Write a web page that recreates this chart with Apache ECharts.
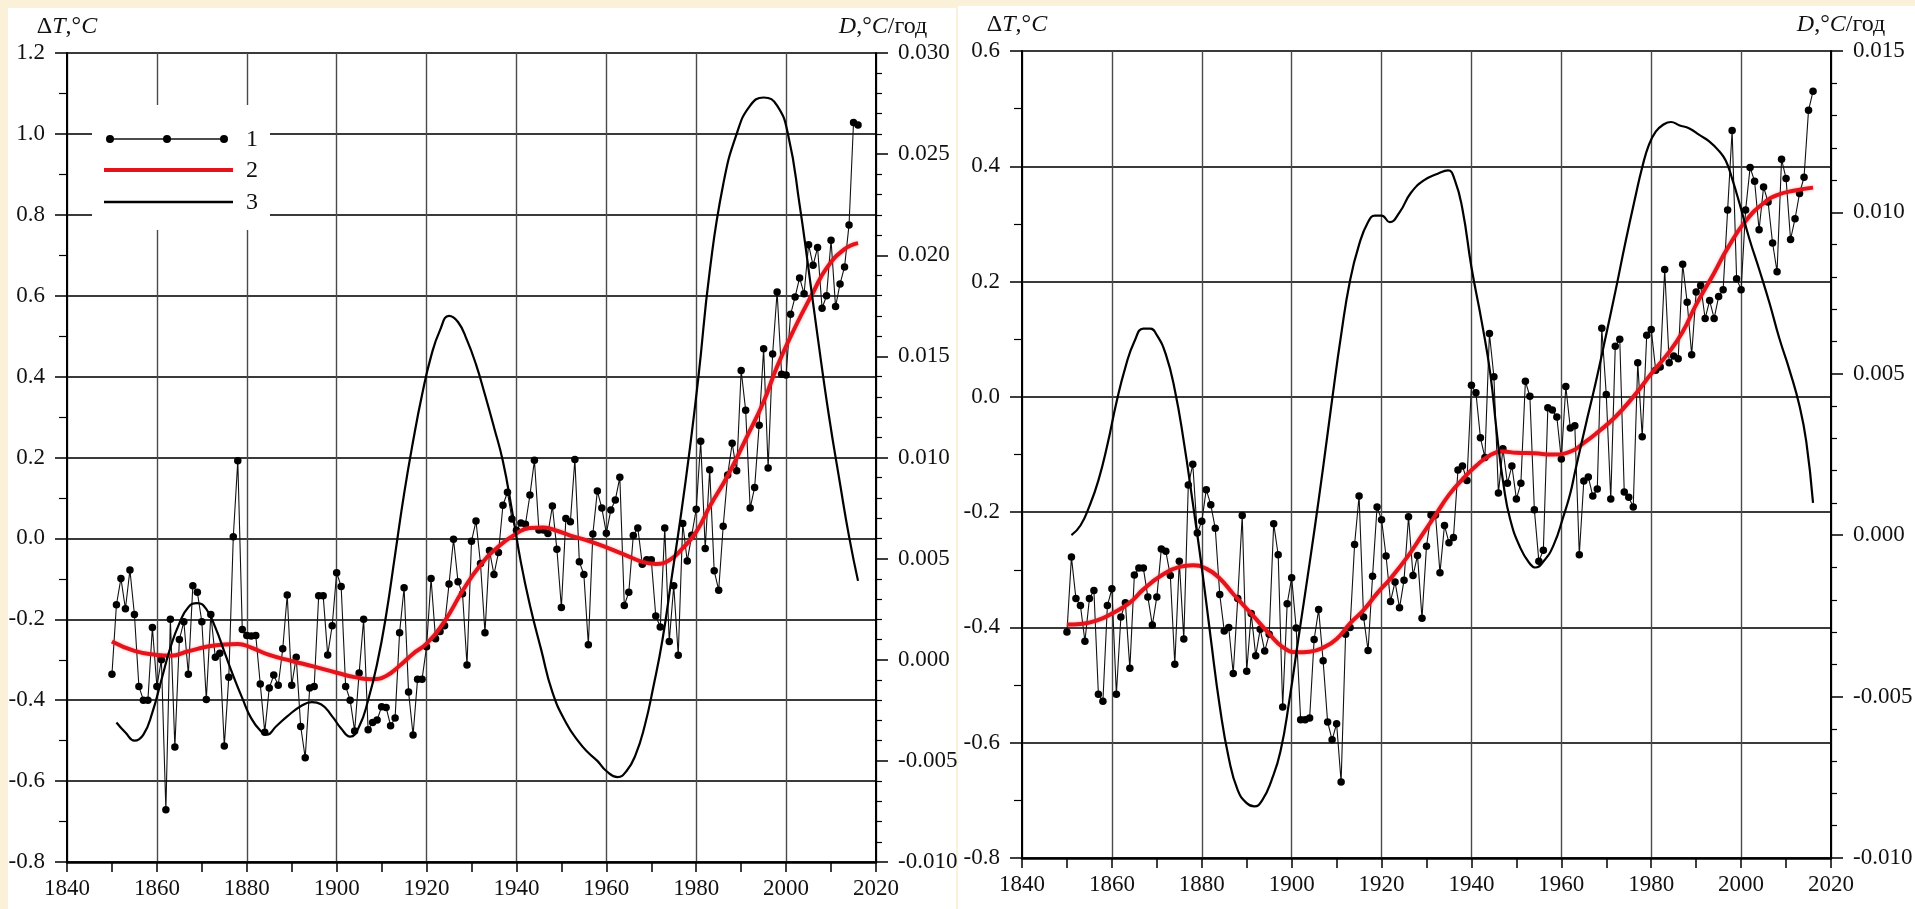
<!DOCTYPE html>
<html><head><meta charset="utf-8">
<script src="https://cdn.jsdelivr.net/npm/echarts/dist/echarts.min.js"></script>
<style>
html,body{margin:0;padding:0;width:1915px;height:909px;background:#fbf0d8;overflow:hidden;font-family:'Liberation Serif',serif}
#p1{position:absolute;left:8px;top:8px;width:948px;height:901px;background:#fff}
#p2{position:absolute;left:958px;top:6px;width:957px;height:903px;background:#fff}
#c{position:absolute;left:0;top:0;width:1915px;height:909px}
</style></head><body>
<div id="p1"></div><div id="p2"></div><div id="c"></div>
<script>
// ---- data ----
const firstYear = 1850;
const yearTicks = [1840, 2020, 20];
const leftTAxis = [-0.8, 1.2, 0.2];
const leftDAxis = [-0.010, 0.030, 0.005];
const rightTAxis = [-0.8, 0.6, 0.2];
const rightDAxis = [-0.010, 0.015, 0.005];

// panel 1: annual ΔT (1850..2016)
const tLeft = [
-0.336,-0.164,-0.099,-0.174,-0.078,-0.188,-0.366,-0.400,-0.400,-0.220,
-0.366,-0.300,-0.671,-0.200,-0.516,-0.250,-0.206,-0.336,-0.117,-0.133,
-0.206,-0.398,-0.188,-0.294,-0.284,-0.513,-0.343,0.004,0.192,-0.225,
-0.240,-0.241,-0.240,-0.360,-0.479,-0.370,-0.338,-0.363,-0.273,-0.140,
-0.363,-0.294,-0.465,-0.542,-0.370,-0.366,-0.142,-0.142,-0.288,-0.216,
-0.085,-0.119,-0.366,-0.400,-0.476,-0.333,-0.200,-0.473,-0.455,-0.449,
-0.416,-0.418,-0.463,-0.444,-0.233,-0.122,-0.380,-0.486,-0.348,-0.348,
-0.268,-0.099,-0.248,-0.230,-0.216,-0.113,-0.002,-0.107,-0.137,-0.313,
-0.007,0.043,-0.062,-0.233,-0.030,-0.089,-0.035,0.082,0.114,0.048,
0.020,0.038,0.035,0.107,0.193,0.021,0.021,0.012,0.080,-0.027,
-0.171,0.049,0.041,0.195,-0.058,-0.089,-0.263,0.011,0.117,0.075,
0.013,0.070,0.095,0.151,-0.166,-0.133,0.007,0.026,-0.064,-0.053,
-0.053,-0.192,-0.219,0.026,-0.255,-0.117,-0.289,0.037,-0.056,0.008,
0.072,0.240,-0.025,0.170,-0.080,-0.128,0.030,0.157,0.235,0.167,
0.415,0.317,0.075,0.126,0.280,0.469,0.174,0.456,0.609,0.406,
0.404,0.554,0.597,0.644,0.605,0.726,0.675,0.719,0.569,0.600,
0.737,0.573,0.629,0.671,0.775,1.028,1.022];

// panel 2: annual ΔT (1850..2016)
const tRight = [
-0.408,-0.278,-0.350,-0.362,-0.424,-0.350,-0.336,-0.516,-0.528,-0.362,
-0.333,-0.516,-0.382,-0.357,-0.471,-0.309,-0.297,-0.297,-0.347,-0.396,
-0.347,-0.264,-0.268,-0.310,-0.464,-0.285,-0.420,-0.153,-0.117,-0.236,
-0.216,-0.161,-0.187,-0.228,-0.343,-0.406,-0.400,-0.480,-0.350,-0.206,
-0.476,-0.376,-0.449,-0.403,-0.441,-0.412,-0.220,-0.274,-0.538,-0.359,
-0.314,-0.401,-0.560,-0.560,-0.557,-0.421,-0.369,-0.458,-0.564,-0.595,
-0.567,-0.668,-0.412,-0.400,-0.256,-0.172,-0.382,-0.440,-0.311,-0.191,
-0.213,-0.276,-0.355,-0.321,-0.366,-0.318,-0.208,-0.310,-0.275,-0.384,
-0.259,-0.205,-0.205,-0.305,-0.223,-0.253,-0.244,-0.127,-0.120,-0.145,
0.020,0.007,-0.071,-0.105,0.110,0.035,-0.167,-0.090,-0.150,-0.120,
-0.177,-0.150,0.027,0.001,-0.196,-0.285,-0.266,-0.019,-0.023,-0.035,
-0.108,0.018,-0.054,-0.050,-0.274,-0.146,-0.139,-0.172,-0.160,0.119,
0.004,-0.177,0.088,0.100,-0.165,-0.174,-0.191,0.059,-0.069,0.107,
0.117,0.046,0.052,0.221,0.059,0.071,0.066,0.230,0.164,0.073,
0.182,0.193,0.136,0.167,0.136,0.174,0.186,0.324,0.462,0.205,
0.186,0.324,0.398,0.374,0.290,0.364,0.338,0.267,0.217,0.412,
0.379,0.273,0.309,0.353,0.381,0.497,0.530];

// smoothed ΔT trend (curve 2), [year, value]
const trendLeft = [[1850,-0.255],[1855,-0.278],[1860,-0.288],[1863,-0.290],[1867,-0.279],[1871,-0.268],[1875,-0.262],[1878,-0.261],[1881,-0.270],[1885,-0.288],[1890,-0.303],[1895,-0.317],[1900,-0.332],[1904,-0.343],[1908,-0.348],[1911,-0.340],[1914,-0.315],[1917,-0.285],[1920,-0.260],[1924,-0.205],[1928,-0.130],[1932,-0.066],[1936,-0.020],[1940,0.012],[1943,0.026],[1946,0.027],[1949,0.019],[1952,0.007],[1956,-0.006],[1960,-0.022],[1964,-0.040],[1968,-0.058],[1971,-0.063],[1974,-0.054],[1977,-0.024],[1980,0.016],[1983,0.079],[1987,0.155],[1991,0.245],[1995,0.338],[1998,0.425],[2002,0.522],[2006,0.608],[2009,0.668],[2013,0.715],[2016,0.730]];
const trendRight = [[1850,-0.395],[1853,-0.394],[1857,-0.387],[1860,-0.376],[1864,-0.357],[1867,-0.334],[1871,-0.310],[1875,-0.295],[1878,-0.292],[1881,-0.298],[1884,-0.315],[1887,-0.342],[1891,-0.376],[1895,-0.411],[1898,-0.434],[1901,-0.443],[1904,-0.442],[1907,-0.435],[1910,-0.420],[1913,-0.393],[1916,-0.370],[1919,-0.341],[1922,-0.315],[1926,-0.275],[1929,-0.240],[1932,-0.205],[1935,-0.170],[1938,-0.143],[1941,-0.120],[1944,-0.102],[1947,-0.095],[1950,-0.097],[1954,-0.098],[1958,-0.100],[1962,-0.095],[1965,-0.080],[1968,-0.062],[1972,-0.035],[1976,0.000],[1980,0.040],[1984,0.078],[1987,0.113],[1990,0.160],[1994,0.215],[1997,0.258],[2001,0.305],[2005,0.336],[2008,0.350],[2012,0.358],[2016,0.363]];

// rate D, °C/год (curve 3), [year, value]
const rateLeft = [[1851,-0.0031],[1853,-0.0036],[1855,-0.0040],[1857,-0.0037],[1859,-0.0026],[1861,-0.0010],[1863,0.0006],[1865,0.0018],[1867,0.0026],[1869,0.0028],[1871,0.0025],[1873,0.0016],[1875,0.0004],[1877,-0.0008],[1879,-0.0019],[1881,-0.0029],[1883,-0.0035],[1884.5,-0.0037],[1886.5,-0.0033],[1889,-0.0028],[1892,-0.0023],[1894.5,-0.0021],[1896.5,-0.0022],[1899,-0.0028],[1901,-0.0034],[1903,-0.0038],[1905,-0.0033],[1907,-0.0020],[1909,-0.0002],[1911,0.0022],[1913,0.0052],[1915,0.0082],[1917,0.0108],[1919,0.0131],[1921,0.0150],[1923,0.0163],[1925,0.0170],[1927,0.0167],[1929,0.0158],[1931,0.0146],[1933,0.0131],[1935,0.0115],[1937,0.0098],[1939,0.0074],[1941,0.0048],[1943,0.0027],[1945.5,0.0005],[1948,-0.0016],[1951,-0.0031],[1954,-0.0041],[1956,-0.0046],[1958,-0.0050],[1960,-0.0055],[1962.5,-0.0058],[1964.5,-0.0055],[1966.5,-0.0047],[1968.5,-0.0033],[1970.5,-0.0013],[1972.5,0.0010],[1974.5,0.0040],[1976.5,0.0070],[1978.5,0.0103],[1980.5,0.0140],[1983,0.0192],[1986,0.0235],[1989,0.0260],[1992,0.0274],[1995,0.0278],[1998,0.0274],[2000.5,0.0259],[2003,0.0225],[2005,0.0193],[2007,0.0160],[2009.5,0.0121],[2012,0.0087],[2014,0.0061],[2016,0.0039]];
const rateRight = [[1851,0.0000],[1853,0.0003],[1855,0.0009],[1857,0.0017],[1859,0.0028],[1861,0.0041],[1863,0.0052],[1865,0.0060],[1867,0.0064],[1868.5,0.0064],[1870,0.0062],[1872,0.0056],[1874,0.0045],[1876,0.0029],[1878,0.0010],[1880,-0.0010],[1882,-0.0032],[1884,-0.0053],[1886,-0.0069],[1888,-0.0079],[1890,-0.0083],[1891.7,-0.0084],[1893.5,-0.0082],[1895.5,-0.0076],[1897.5,-0.0067],[1899.5,-0.0051],[1901.5,-0.0032],[1903,-0.0018],[1905,0.0001],[1907,0.0021],[1909,0.0042],[1911,0.0062],[1913,0.0079],[1915,0.0090],[1917,0.0097],[1918.5,0.0099],[1920,0.0099],[1921.8,0.0097],[1924,0.0100],[1926.5,0.0106],[1929.5,0.0110],[1932.5,0.0112],[1934.8,0.0113],[1936.3,0.0110],[1938,0.0101],[1940,0.0083],[1942.3,0.0066],[1944.2,0.0050],[1945.7,0.0031],[1947.1,0.0016],[1948.6,0.0005],[1950.9,-0.0004],[1953.1,-0.0009],[1954.2,-0.0010],[1956.1,-0.0008],[1958.3,-0.0003],[1960.5,0.0006],[1962,0.0013],[1963.1,0.0020],[1965.4,0.0034],[1967.6,0.0047],[1969.8,0.0061],[1972.1,0.0076],[1974.3,0.0091],[1976.5,0.0105],[1978,0.0114],[1979.5,0.0121],[1981,0.0125],[1982.5,0.0127],[1984.4,0.0128],[1986.2,0.0127],[1988.5,0.0126],[1990.7,0.0124],[1992.9,0.0122],[1995.1,0.0119],[1996.6,0.0116],[1998.1,0.0110],[1999.6,0.0103],[2001.8,0.0092],[2004.1,0.0082],[2006.3,0.0072],[2008.5,0.0061],[2010.8,0.0051],[2013,0.0040],[2014.5,0.0029],[2016,0.0010]];

const legendLabels = ['1', '2', '3'];

// ---- chart ----
const FONT = "'Liberation Serif', serif";
const TXT = '#111';
const LBL = 23;
const rich = {
  r: {fontFamily: FONT, fontSize: 24, color: TXT},
  i: {fontFamily: FONT, fontSize: 24, fontStyle: 'italic', color: TXT}
};
const annual = (arr) => arr.map((v, i) => [firstYear + i, v]);

function xAx(gi) {
  return {
    type: 'value', gridIndex: gi, min: yearTicks[0], max: yearTicks[1], interval: yearTicks[2],
    axisLine: {show: true, onZero: false, lineStyle: {color: '#000', width: 2.5}},
    axisTick: {show: true, inside: false, length: 10, lineStyle: {color: '#000', width: 1.5}},
    minorTick: {show: true, splitNumber: 2, length: 10, lineStyle: {color: '#000', width: 1.5}},
    axisLabel: {fontFamily: FONT, fontSize: LBL, color: TXT, margin: 15, formatter: v => String(v)},
    splitLine: {show: true, lineStyle: {color: '#4a4a4a', width: 1.4}},
    minorSplitLine: {show: false}
  };
}
function tAx(gi, rng, padName) {
  return {
    type: 'value', gridIndex: gi, position: 'left', min: rng[0], max: rng[1], interval: rng[2],
    name: '{r|Δ}{i|T}{r|,°}{i|C}', nameLocation: 'end', nameGap: 14,
    nameTextStyle: {fontFamily: FONT, rich: rich, padding: padName},
    axisLine: {show: true, onZero: false, lineStyle: {color: '#000', width: 2}},
    axisTick: {show: true, inside: false, length: 12, lineStyle: {color: '#000', width: 1.5}},
    minorTick: {show: true, splitNumber: 2, length: 8, lineStyle: {color: '#000', width: 1.2}},
    axisLabel: {fontFamily: FONT, fontSize: LBL, color: TXT, margin: 22, formatter: v => v.toFixed(1)},
    splitLine: {show: true, lineStyle: {color: '#3a3a3a', width: 2}},
    minorSplitLine: {show: false}
  };
}
function dAx(gi, rng, padName) {
  return {
    type: 'value', gridIndex: gi, position: 'right', min: rng[0], max: rng[1], interval: rng[2],
    name: '{i|D}{r|,°}{i|C}{r|/год}', nameLocation: 'end', nameGap: 14,
    nameTextStyle: {fontFamily: FONT, rich: rich, padding: padName},
    axisLine: {show: true, onZero: false, lineStyle: {color: '#000', width: 2}},
    axisTick: {show: true, inside: false, length: 12, lineStyle: {color: '#000', width: 1.5}},
    minorTick: {show: true, splitNumber: 5, length: 6, lineStyle: {color: '#000', width: 1.2}},
    axisLabel: {fontFamily: FONT, fontSize: LBL, color: TXT, margin: 22, formatter: v => v.toFixed(3)},
    splitLine: {show: false}, minorSplitLine: {show: false}
  };
}
function dataSeries(name, xi, yi, arr) {
  return {name: name, type: 'line', xAxisIndex: xi, yAxisIndex: yi, data: annual(arr),
    symbol: 'circle', symbolSize: 7.5, showSymbol: true, showAllSymbol: true,
    lineStyle: {color: '#111', width: 1.1}, itemStyle: {color: '#000'}, z: 3, animation: false, silent: true};
}
function trendSeries(name, xi, yi, arr) {
  return {name: name, type: 'line', xAxisIndex: xi, yAxisIndex: yi, data: arr, smooth: 0.5,
    symbol: 'none', lineStyle: {color: '#e3141c', width: 4, shadowColor: 'rgba(230,40,40,0.45)', shadowBlur: 3},
    z: 4, animation: false, silent: true};
}
function rateSeries(name, xi, yi, arr) {
  return {name: name, type: 'line', xAxisIndex: xi, yAxisIndex: yi, data: arr, smooth: 0.5,
    symbol: 'none', lineStyle: {color: '#000', width: 2.2}, z: 5, animation: false, silent: true};
}

const chart = echarts.init(document.getElementById('c'), null, {renderer: 'canvas'});
const gtxt = (t, x, y) => ({type: 'text', z: 102, style: {text: t, x: x, y: y, fontFamily: FONT, fontSize: 24, fill: TXT, verticalAlign: 'middle'}});
chart.setOption({
  backgroundColor: 'transparent',
  animation: false,
  textStyle: {fontFamily: FONT},
  grid: [
    {left: 67, top: 53, width: 809, height: 809, containLabel: false, outerBoundsMode: 'none'},
    {left: 1022, top: 51, width: 809, height: 807, containLabel: false, outerBoundsMode: 'none'}
  ],
  xAxis: [xAx(0), xAx(1)],
  yAxis: [tAx(0, leftTAxis, [0, 0, 0, 0]), dAx(0, leftDAxis, [0, 0, 0, 14]),
          tAx(1, rightTAxis, [0, 10, 0, 0]), dAx(1, rightDAxis, [0, 0, 0, 20])],
  series: [
    dataSeries(legendLabels[0], 0, 0, tLeft),
    trendSeries(legendLabels[1], 0, 0, trendLeft),
    rateSeries(legendLabels[2], 0, 1, rateLeft),
    dataSeries(legendLabels[0], 1, 2, tRight),
    trendSeries(legendLabels[1], 1, 2, trendRight),
    rateSeries(legendLabels[2], 1, 3, rateRight)
  ],
  graphic: [
    {type: 'rect', z: 100, silent: true, shape: {x: 92, y: 105, width: 178, height: 125}, style: {fill: '#fff'}},
    {type: 'line', z: 101, shape: {x1: 110, y1: 139, x2: 224, y2: 139}, style: {stroke: '#111', lineWidth: 1.5}},
    {type: 'circle', z: 102, shape: {cx: 110, cy: 139, r: 4}, style: {fill: '#000'}},
    {type: 'circle', z: 102, shape: {cx: 167, cy: 139, r: 4}, style: {fill: '#000'}},
    {type: 'circle', z: 102, shape: {cx: 224, cy: 139, r: 4}, style: {fill: '#000'}},
    {type: 'line', z: 101, shape: {x1: 104, y1: 170, x2: 233, y2: 170}, style: {stroke: '#e3141c', lineWidth: 4}},
    {type: 'line', z: 101, shape: {x1: 104, y1: 202, x2: 233, y2: 202}, style: {stroke: '#000', lineWidth: 2.5}},
    gtxt(legendLabels[0], 246, 140), gtxt(legendLabels[1], 246, 171), gtxt(legendLabels[2], 246, 203)
  ]
});
</script></body></html>
